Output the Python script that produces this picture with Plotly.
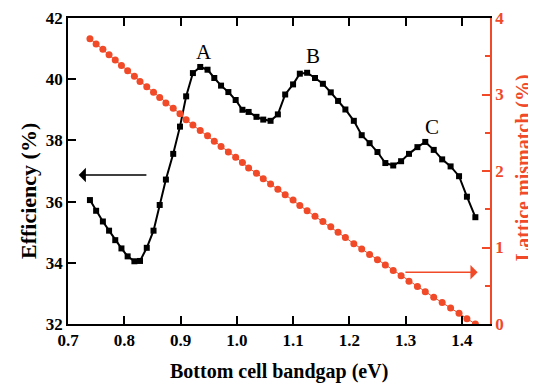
import plotly.graph_objects as go

bandgap = [0.739, 0.750, 0.762, 0.773, 0.784, 0.795, 0.806, 0.818, 0.828, 0.840,
           0.852, 0.863, 0.874, 0.887, 0.899, 0.910, 0.922, 0.935, 0.948, 0.960,
           0.972, 0.985, 0.998, 1.010, 1.021, 1.035, 1.047, 1.060, 1.073, 1.086,
           1.100, 1.112, 1.125, 1.139, 1.153, 1.167, 1.180, 1.193, 1.208, 1.222,
           1.236, 1.250, 1.264, 1.278, 1.292, 1.306, 1.321, 1.335, 1.350, 1.365,
           1.380, 1.395, 1.409, 1.424]

efficiency = [36.05, 35.70, 35.35, 35.05, 34.74, 34.47, 34.21, 34.05, 34.06, 34.49,
              35.05, 35.89, 36.72, 37.56, 38.45, 39.44, 40.20, 40.40, 40.31, 40.04,
              39.79, 39.58, 39.32, 39.00, 38.93, 38.77, 38.68, 38.64, 38.85, 39.50,
              39.83, 40.18, 40.21, 40.04, 39.85, 39.57, 39.29, 39.01, 38.64, 38.17,
              37.91, 37.62, 37.26, 37.18, 37.32, 37.56, 37.78, 37.95, 37.69, 37.38,
              37.15, 36.83, 36.16, 35.49]

mismatch = [3.73, 3.66, 3.59, 3.52, 3.45, 3.38, 3.31, 3.24, 3.17, 3.10,
            3.03, 2.96, 2.89, 2.82, 2.75, 2.67, 2.60, 2.53, 2.46, 2.39,
            2.32, 2.25, 2.18, 2.11, 2.04, 1.97, 1.90, 1.83, 1.76, 1.69,
            1.62, 1.55, 1.48, 1.41, 1.34, 1.27, 1.20, 1.13, 1.05, 0.98,
            0.91, 0.84, 0.77, 0.70, 0.63, 0.56, 0.49, 0.42, 0.35, 0.28,
            0.21, 0.14, 0.07, 0.00]

x_ticks = [0.7, 0.8, 0.9, 1.0, 1.1, 1.2, 1.3, 1.4]
x_ticktext = ["0.7", "0.8", "0.9", "1.0", "1.1", "1.2", "1.3", "1.4"]
peak_labels = ["A", "B", "C"]
peak_x = [0.941, 1.136, 1.347]
peak_y = [40.90, 40.77, 38.45]

RED = "#F04A28"
FONT = "Liberation Serif"

fig = go.Figure()
fig.add_trace(go.Scatter(
    x=bandgap, y=mismatch, mode="lines+markers", yaxis="y2",
    line=dict(color=RED, width=1),
    marker=dict(symbol="circle", size=7, color=RED),
    showlegend=False))
fig.add_trace(go.Scatter(
    x=bandgap, y=efficiency, mode="lines+markers", yaxis="y",
    line=dict(color="black", width=2),
    marker=dict(symbol="square", size=6, color="black"),
    showlegend=False))

for lab, px, py in zip(peak_labels, peak_x, peak_y):
    fig.add_annotation(x=px, y=py, xref="x", yref="y", text=lab, showarrow=False,
                       font=dict(family=FONT, size=21, color="black"))

# arrows
fig.add_annotation(x=0.719, y=36.87, ax=0.842, ay=36.87, xref="x", yref="y",
                   axref="x", ayref="y", text="", showarrow=True,
                   arrowhead=1, arrowsize=1.5, arrowwidth=1.6, arrowcolor="black")
fig.add_annotation(x=1.428, y=0.676, ax=1.297, ay=0.676, xref="x", yref="y2",
                   axref="x", ayref="y2", text="", showarrow=True,
                   arrowhead=1, arrowsize=1.5, arrowwidth=1.6, arrowcolor=RED)

# axis titles as annotations for exact placement
fig.add_annotation(x=0.5, y=0, xref="paper", yref="paper", yshift=-47,
                   text="Bottom cell bandgap (eV)", showarrow=False,
                   xanchor="center", yanchor="middle",
                   font=dict(family=FONT, size=20, color="black", weight="bold"))
fig.add_annotation(x=0, y=0.5, xref="paper", yref="paper", xshift=-40, yshift=-20,
                   text="Efficiency (%)", showarrow=False, textangle=-90,
                   xanchor="center", yanchor="middle",
                   font=dict(family=FONT, size=22, color="black", weight="bold"))
fig.add_annotation(x=1, y=0.5, xref="paper", yref="paper", xshift=33, yshift=3,
                   text="Lattice mismatch (%)", showarrow=False, textangle=-90,
                   xanchor="center", yanchor="middle",
                   font=dict(family=FONT, size=20, color=RED, weight="bold"))

tickfont = dict(family=FONT, size=17, color="black", weight="bold")

fig.update_layout(
    width=536, height=387,
    margin=dict(l=60, r=54, t=10, b=71),
    paper_bgcolor="white", plot_bgcolor="white",
    xaxis=dict(range=[0.7, 1.45], tickvals=x_ticks, ticktext=x_ticktext,
               ticks="inside", ticklen=8, tickwidth=1.5, tickcolor="black",
               showline=True, linecolor="black", linewidth=1.5, mirror="ticks",
               showgrid=False, zeroline=False, tickfont=tickfont, automargin=False,
               ticklabeloverflow="allow"),
    yaxis=dict(range=[32, 42], dtick=2, ticks="inside", ticklen=8, tickwidth=1.5,
               tickcolor="black", showline=True, linecolor="black", linewidth=1.5,
               showgrid=False, zeroline=False, tickfont=tickfont, automargin=False,
               ticklabeloverflow="allow"),
    yaxis2=dict(range=[0, 4], dtick=1, overlaying="y", side="right",
                ticks="inside", ticklen=8, tickwidth=1.5, tickcolor=RED,
                minor=dict(dtick=0.5, ticks="inside", ticklen=5, tickcolor=RED, tickwidth=1.5),
                showline=True, linecolor=RED, linewidth=1.5,
                showgrid=False, zeroline=False, automargin=False,
                ticklabeloverflow="allow",
                tickfont=dict(family=FONT, size=17, color=RED, weight="bold")),
)

fig.write_html("out.html")
